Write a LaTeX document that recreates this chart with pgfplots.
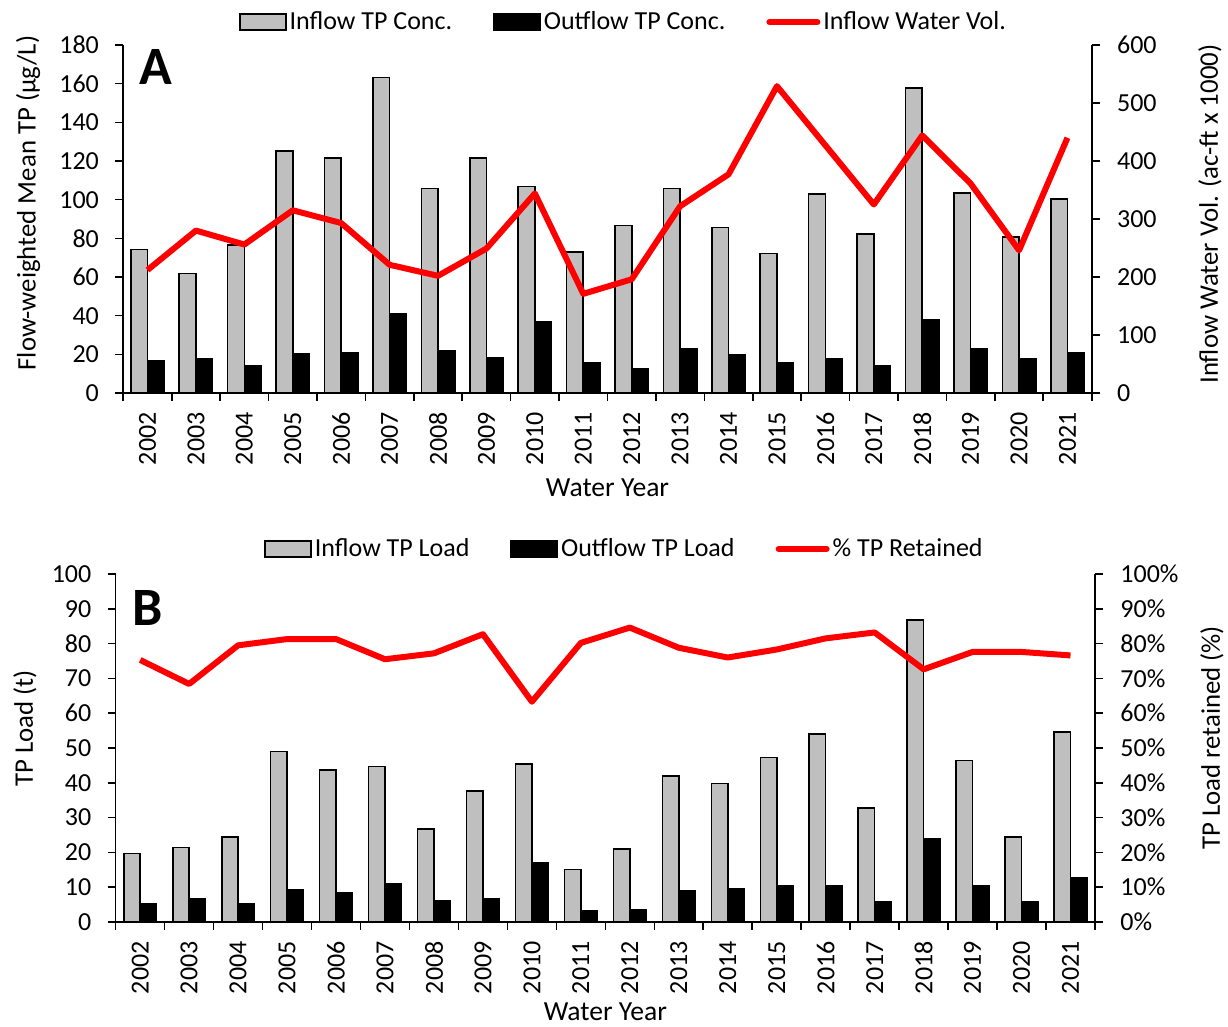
\documentclass[border=0pt]{standalone}
\usepackage{fontspec}
\setmainfont{Carlito}
\usepackage{pgfplots}
\usepackage{pgfplotstable}
\pgfplotsset{compat=1.18}
\definecolor{barGray}{RGB}{191,191,191}

\pgfplotstableread{
x inflow outflow vol
0 74.3 16.6 212
1 61.9 17.8 280
2 76.4 14.3 256
3 125.3 20.2 315
4 121.6 20.7 293
5 163.1 40.9 221
6 105.7 21.9 202
7 121.6 18.4 249
8 106.9 36.7 344
9 72.8 15.5 171
10 86.7 12.4 196
11 105.7 22.6 322
12 85.5 19.8 377
13 72.1 15.5 529
14 102.8 17.9 427
15 82.1 14.3 325
16 157.8 37.9 444
17 103.4 22.6 361
18 80.7 17.9 246
19 100.2 20.7 440
}\dataA

\pgfplotstableread{
x inflow outflow ret
0 19.7 5.1 75.3
1 21.4 6.6 68.4
2 24.4 5.1 79.5
3 49.0 9.3 81.3
4 43.7 8.3 81.3
5 44.7 10.9 75.5
6 26.7 6.0 77.2
7 37.6 6.6 82.7
8 45.4 16.9 63.3
9 15.1 3.1 80.2
10 21.0 3.4 84.6
11 42.0 8.9 78.8
12 39.8 9.6 76.0
13 47.3 10.3 78.3
14 54.0 10.3 81.5
15 32.8 5.7 83.2
16 86.8 23.8 72.6
17 46.4 10.3 77.6
18 24.5 5.7 77.6
19 54.6 12.8 76.6
}\dataB

\pgfplotsset{
  mybase/.style={
    scale only axis,
    height=174pt,
    xmin=-0.5, xmax=19.5,
    axis line style={line width=0.8pt, black},
    tick style={line width=0.8pt, black},
    tick align=outside,
    major tick length=4pt,
    minor tick length=4pt,
    ticklabel style={font=\fontsize{13}{15}\selectfont},
    /pgf/number format/assume math mode=true,
    label style={font=\fontsize{13.8}{16}\selectfont},
    clip=false,
  },
  barbase/.style={
    mybase,
    axis x line*=bottom, axis y line*=left,
    ybar=0pt,
    xtick={0,...,19},
    major x tick style={draw=none},
    minor xtick={-0.5,0.5,...,19.5},
    minor x tick style={draw=black, line width=0.8pt},
    xticklabels={2002,2003,2004,2005,2006,2007,2008,2009,2010,2011,2012,2013,2014,2015,2016,2017,2018,2019,2020,2021},
    xticklabel shift=5.5pt,
    xticklabel style={rotate=90, anchor=east, inner sep=0pt},
    yticklabel style={inner sep=0pt, xshift=-8pt},
    ymin=0,
  },
  linebase/.style={
    mybase,
    axis x line=none, axis y line*=right,
    ymin=0,
    yticklabel style={inner sep=0pt, xshift=8.5pt, anchor=west},
    legend columns=3,
    legend style={draw=none, fill=none, inner sep=0pt,
      font=\fontsize{13}{15}\selectfont,
      /tikz/every even column/.append style={column sep=19pt},
      nodes={inner sep=1.5pt}},
  },
}

\begin{document}
\begin{tikzpicture}[x=1pt,y=1pt]
\useasboundingbox (0,0) rectangle (614,513.5);

% ---------- Panel A ----------
\begin{axis}[barbase, at={(61.65pt,317pt)}, anchor=south west, width=484.2pt,
  bar width=8.35pt,
  ymax=180, ytick={0,20,...,180},
  xlabel={Water Year},
  xlabel style={at={(axis description cs:0.5,-0.273)}, anchor=center},
  ylabel={Flow-weighted Mean TP (µg/L)},
  ylabel style={at={(axis description cs:-0.0984,0.546)}, anchor=center, font=\fontsize{13.4}{16}\selectfont},
]
\addplot[fill=barGray, draw=black, line width=0.8pt] table[x=x,y=inflow]{\dataA};
\addplot[fill=black, draw=black, line width=0.8pt] table[x=x,y=outflow]{\dataA};
\node[font=\fontsize{27}{30}\bfseries] at (axis description cs:0.0338,0.938) {A};
\end{axis}
\begin{axis}[linebase, at={(61.65pt,317pt)}, anchor=south west, width=484.2pt,
  ymax=600, ytick={0,100,...,600},
  ylabel={Inflow Water Vol. (ac-ft x 1000)},
  ylabel style={at={(axis description cs:1.122,0.514)}, anchor=center, font=\fontsize{13.4}{16}\selectfont},
  legend style={at={(axis description cs:0.517,1.066)}, anchor=center},
]
\addlegendimage{legend image code/.code={\draw[fill=barGray,draw=black,line width=0.8pt] (0pt,-4pt) rectangle (23pt,4pt);}}
\addlegendentry{Inflow TP Conc.}
\addlegendimage{legend image code/.code={\draw[fill=black,draw=black,line width=0.8pt] (0pt,-4pt) rectangle (23pt,4pt);}}
\addlegendentry{Outflow TP Conc.}
\addplot[red, line width=3pt, line join=round,
  legend image code/.code={\draw[red,line width=3pt,line cap=round] (1pt,0pt) -- (25pt,0pt);}]
  table[x=x,y=vol]{\dataA};
\addlegendentry{Inflow Water Vol.}
\end{axis}

% ---------- Panel B ----------
\begin{axis}[barbase, at={(57.85pt,52.5pt)}, anchor=south west, width=489.65pt,
  bar width=8.2pt,
  ymax=100, ytick={0,10,...,100},
  xlabel={Water Year},
  xlabel style={at={(axis description cs:0.5,-0.258)}, anchor=center},
  ylabel={TP Load (t)},
  ylabel style={at={(axis description cs:-0.0926,0.557)}, anchor=center, font=\fontsize{13.4}{16}\selectfont},
]
\addplot[fill=barGray, draw=black, line width=0.8pt] table[x=x,y=inflow]{\dataB};
\addplot[fill=black, draw=black, line width=0.8pt] table[x=x,y=outflow]{\dataB};
\node[font=\fontsize{27}{30}\bfseries] at (axis description cs:0.033,0.901) {B};
\end{axis}
\begin{axis}[linebase, at={(57.85pt,52.5pt)}, anchor=south west, width=489.65pt,
  ymax=100, ytick={0,10,...,100},
  yticklabel={\pgfmathprintnumber{\tick}\%},
  ylabel={TP Load retained (\%)},
  ylabel style={at={(axis description cs:1.1195,0.529)}, anchor=center, font=\fontsize{13.4}{16}\selectfont},
  legend style={at={(axis description cs:0.520,1.072)}, anchor=center},
]
\addlegendimage{legend image code/.code={\draw[fill=barGray,draw=black,line width=0.8pt] (0pt,-4pt) rectangle (23pt,4pt);}}
\addlegendentry{Inflow TP Load}
\addlegendimage{legend image code/.code={\draw[fill=black,draw=black,line width=0.8pt] (0pt,-4pt) rectangle (23pt,4pt);}}
\addlegendentry{Outflow TP Load}
\addplot[red, line width=3pt, line join=round,
  legend image code/.code={\draw[red,line width=3pt,line cap=round] (1pt,0pt) -- (25pt,0pt);}]
  table[x=x,y=ret]{\dataB};
\addlegendentry{\% TP Retained}
\end{axis}
\end{tikzpicture}
\end{document}
